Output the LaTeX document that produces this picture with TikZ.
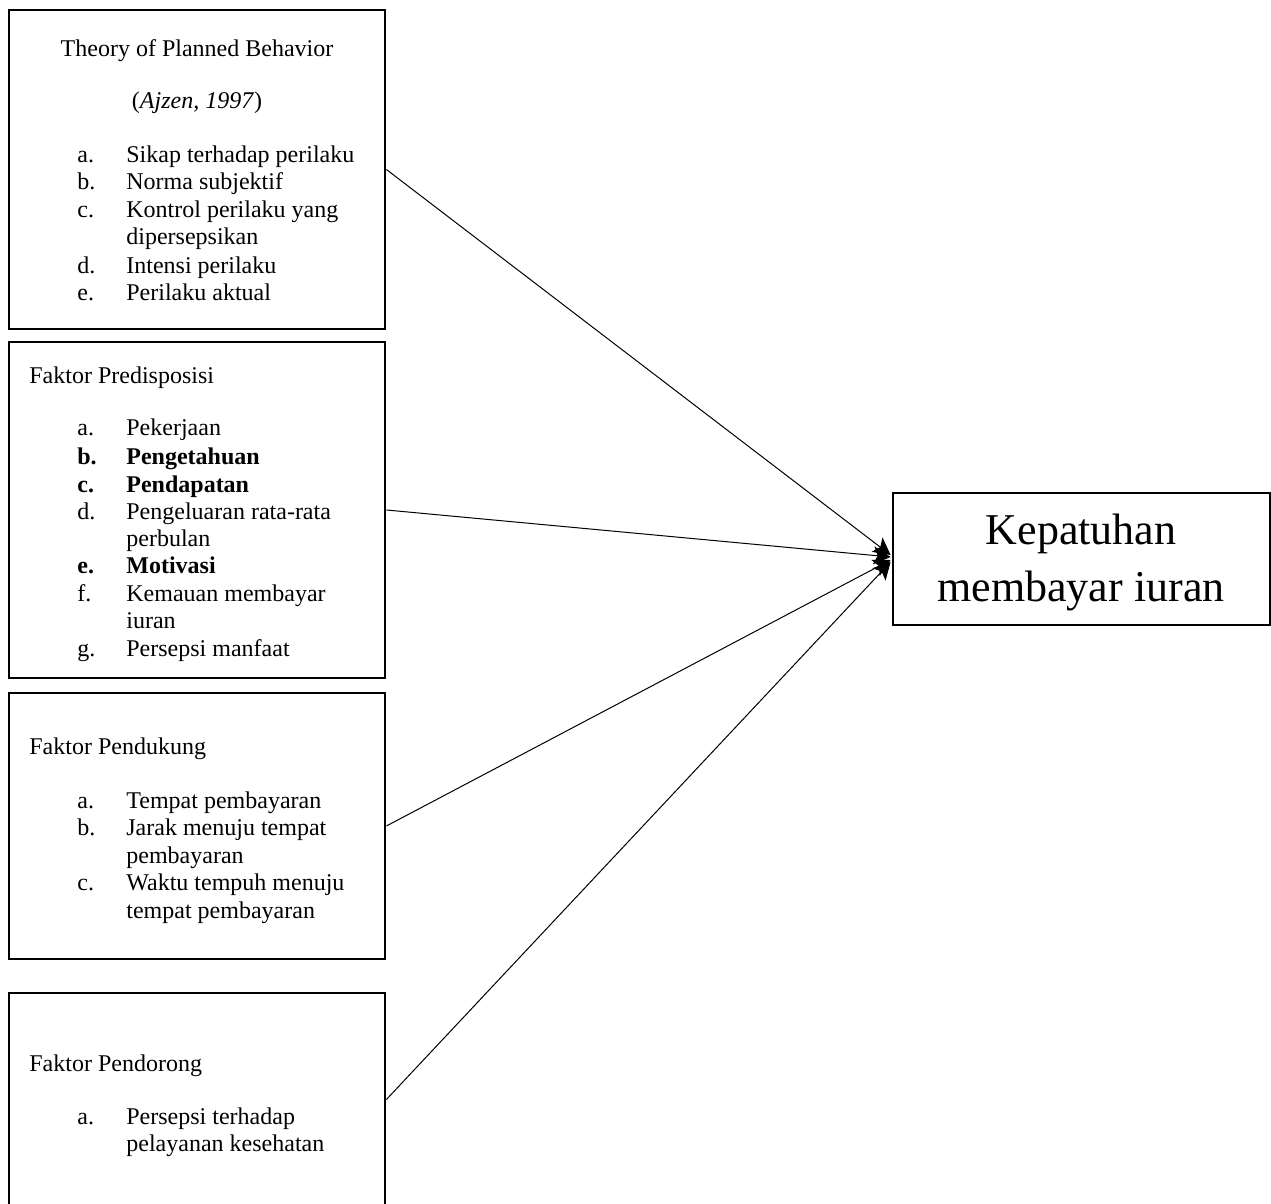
\documentclass[tikz,border=0pt]{standalone}
\usepackage{fontspec}
\setmainfont{Liberation Serif}
\usetikzlibrary{arrows.meta,fit,calc}
\begin{document}
\begin{tikzpicture}[x=0.5pt,y=-0.5pt,
  box/.style={draw,line width=1.4pt,inner sep=0pt},
  conn/.style={line width=0.5pt,-{Stealth[length=8.5pt,width=9pt,inset=2pt]}},
  txt/.style={anchor=base west,inner sep=0pt,font=\fontsize{12}{13.8}\selectfont},
  ctxt/.style={anchor=base,inner sep=0pt,font=\fontsize{12}{13.8}\selectfont},
  big/.style={anchor=base,inner sep=0pt,font=\fontsize{22}{28}\selectfont}]
\useasboundingbox (0,0) rectangle (1271,1204);
% boxes
\node[box,fit={(9,10)(385,329)}] (b1) {};
\node[box,fit={(9,342)(385,678)}] (b2) {};
\node[box,fit={(9,693)(385,959)}] (b3) {};
\node[box,fit={(9,993)(385,1206)}] (b4) {};
\node[box,fit={(893,493)(1270,625)}] (k) {};
% box 1
\node[ctxt] (b1h) at (197,57) {Theory of Planned Behavior};
\node[ctxt] (b1c) at (197,109) {(\textit{Ajzen, 1997})};
\foreach \y/\l/\t [count=\i] in {163/a./Sikap terhadap perilaku,190/b./Norma subjektif,218/c./Kontrol perilaku yang,245//dipersepsikan,273/d./Intensi perilaku,300/e./Perilaku aktual}
{ \node[txt] (b1l\i) at (77,\y) {\l}; \node[txt] (b1t\i) at (126,\y) {\t}; }
% box 2
\node[txt] (b2h) at (29,383) {Faktor Predisposisi};
\foreach \y/\l/\t [count=\i] in {436/a./Pekerjaan,464/{\textbf{b.}}/{\textbf{Pengetahuan}},492/{\textbf{c.}}/{\textbf{Pendapatan}},519/d./Pengeluaran rata-rata,546//perbulan,573/{\textbf{e.}}/{\textbf{Motivasi}},601/f./Kemauan membayar,628//iuran,656/g./Persepsi manfaat}
{ \node[txt] (b2l\i) at (77,\y) {\l}; \node[txt] (b2t\i) at (126,\y) {\t}; }
% box 3
\node[txt] (b3h) at (29,754) {Faktor Pendukung};
\foreach \y/\l/\t [count=\i] in {808/a./Tempat pembayaran,835/b./Jarak menuju tempat,863//pembayaran,890/c./Waktu tempuh menuju,918//tempat pembayaran}
{ \node[txt] (b3l\i) at (77,\y) {\l}; \node[txt] (b3t\i) at (126,\y) {\t}; }
% box 4
\node[txt] (b4h) at (29,1071) {Faktor Pendorong};
\foreach \y/\l/\t [count=\i] in {1124/a./Persepsi terhadap,1151//pelayanan kesehatan}
{ \node[txt] (b4l\i) at (77,\y) {\l}; \node[txt] (b4t\i) at (126,\y) {\t}; }
% target
\node[big] (k1) at (1081,544) {Kepatuhan};
\node[big] (k2) at (1081,601) {membayar iuran};
% connectors
\draw[conn] (b1.east) -- ($(k.west)+(-1,-4)$);
\draw[conn] (b2.east) -- ($(k.west)+(-1,-2)$);
\draw[conn] (b3.east) -- ($(k.west)+(-1,1)$);
\draw[conn] (b4.east) -- ($(k.west)+(-1,3)$);
\end{tikzpicture}
\end{document}
